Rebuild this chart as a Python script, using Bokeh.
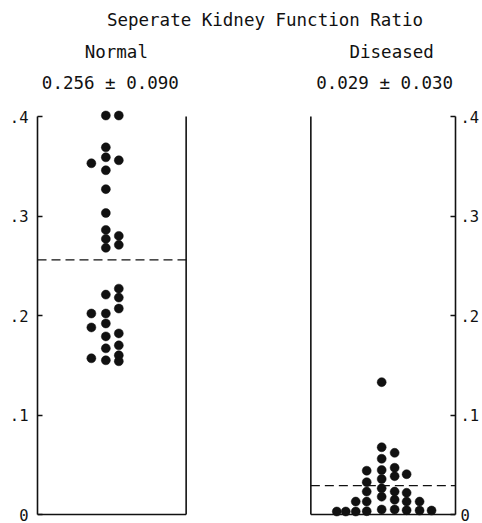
from bokeh.plotting import figure
from bokeh.models import Range1d, LinearAxis, FixedTicker
from bokeh.core.properties import value
from bokeh.embed import file_html
from bokeh.resources import INLINE

# ---- data ----
title_text = "Seperate Kidney Function Ratio"
groups = ["Normal", "Diseased"]
group_stats = ["0.256 \u00b1 0.090", "0.029 \u00b1 0.030"]
group_means = [0.256, 0.029]

normal_values = [0.401, 0.401, 0.369, 0.359, 0.353, 0.356, 0.346, 0.327, 0.303, 0.286,
                 0.277, 0.268, 0.280, 0.271, 0.227, 0.221, 0.218, 0.207, 0.202, 0.202,
                 0.192, 0.188, 0.182, 0.179, 0.170, 0.167, 0.160, 0.157, 0.155, 0.154]
normal_cols = [1, 2, 1, 1, 0, 2, 1, 1, 1, 1,
               1, 1, 2, 2, 2, 1, 2, 2, 0, 1,
               1, 0, 2, 1, 2, 1, 2, 0, 1, 2]

diseased_values = [0.003,
                   0.003,
                   0.013, 0.003,
                   0.044, 0.0325, 0.023, 0.013, 0.0033,
                   0.133, 0.0676, 0.056, 0.0447, 0.0357, 0.0263, 0.0179, 0.005,
                   0.062, 0.047, 0.0385, 0.023, 0.0148, 0.005,
                   0.0405, 0.0218, 0.013, 0.0043,
                   0.013, 0.004,
                   0.004]
diseased_cols = [0,
                 1,
                 2, 2,
                 3, 3, 3, 3, 3,
                 4, 4, 4, 4, 4, 4, 4, 4,
                 5, 5, 5, 5, 5, 5,
                 6, 6, 6, 6,
                 7, 7,
                 8]

tick_values = [0, 0.1, 0.2, 0.3, 0.4]
tick_labels = ["0", ".1", ".2", ".3", ".4"]

# ---- layout (horizontal units = px from left axis; vertical: value units) ----
panel_left = (0, 149)
panel_right = (274, 419)
normal_col_x = [54, 68.5, 81.5]
diseased_col_x = [300, 309, 319, 330, 345, 358, 370, 383, 395]
PX_PER_UNIT = 995.0   # vertical pixels per unit of ratio
ZERO_ROW = 514        # figure row of value 0

FONT = "DejaVu Sans Mono"
INK = "#111111"

p = figure(width=482, height=523, output_backend="svg", toolbar_location=None,
           x_range=Range1d(0, 419),
           y_range=Range1d(-(519 - ZERO_ROW) / PX_PER_UNIT, ZERO_ROW / PX_PER_UNIT),
           x_axis_location=None, y_axis_location=None,
           min_border_left=37, min_border_right=26, min_border_top=0, min_border_bottom=4)
p.grid.visible = False
p.outline_line_color = None
p.background_fill_color = "white"
p.border_fill_color = "white"

overrides = {v: l for v, l in zip(tick_values, tick_labels)}


def make_axis(standoff):
    ax = LinearAxis(ticker=FixedTicker(ticks=tick_values), bounds=(0, 0.4))
    ax.major_label_overrides = overrides
    ax.major_tick_in = 5
    ax.major_tick_out = 0
    ax.minor_tick_line_color = None
    ax.axis_line_width = 1.6
    ax.axis_line_color = INK
    ax.major_tick_line_color = INK
    ax.major_tick_line_width = 1.5
    ax.major_label_text_font = FONT
    ax.major_label_text_font_size = "15.5px"
    ax.major_label_text_color = INK
    ax.major_label_standoff = standoff
    return ax


p.add_layout(make_axis(9), "left")
p.add_layout(make_axis(5), "right")

# box lines
p.segment(x0=[panel_left[1], panel_right[0], panel_left[0], panel_right[0]],
          y0=[0, 0, 0, 0],
          x1=[panel_left[1], panel_right[0], panel_left[1], panel_right[1]],
          y1=[0.4, 0.4, 0, 0],
          line_color=INK, line_width=1.6)

# mean lines
p.segment(x0=[panel_left[0], panel_right[0]], y0=group_means,
          x1=[panel_left[1], panel_right[1]], y1=group_means,
          line_color=INK, line_width=1.3, line_dash="9 5")

# dots
p.scatter([normal_col_x[c] for c in normal_cols], normal_values,
          size=9, fill_color=INK, line_color=INK, line_width=0.5)
p.scatter([diseased_col_x[c] for c in diseased_cols], diseased_values,
          size=9, fill_color=INK, line_color=INK, line_width=0.5)


def row_to_y(row):
    return (ZERO_ROW - row) / PX_PER_UNIT


text_x = [228, 79, 355, 73, 348]
text_rows = [19, 51, 82, 82, 82]
text_rows[2] = 51
texts = [title_text, groups[0], groups[1], group_stats[0], group_stats[1]]
p.text(x=text_x, y=[row_to_y(r) for r in text_rows], text=texts,
       text_font=value(FONT), text_font_size="17.5px", text_color=INK,
       text_align="center", text_baseline="middle")

open("out.html", "w").write(file_html(p, INLINE))
